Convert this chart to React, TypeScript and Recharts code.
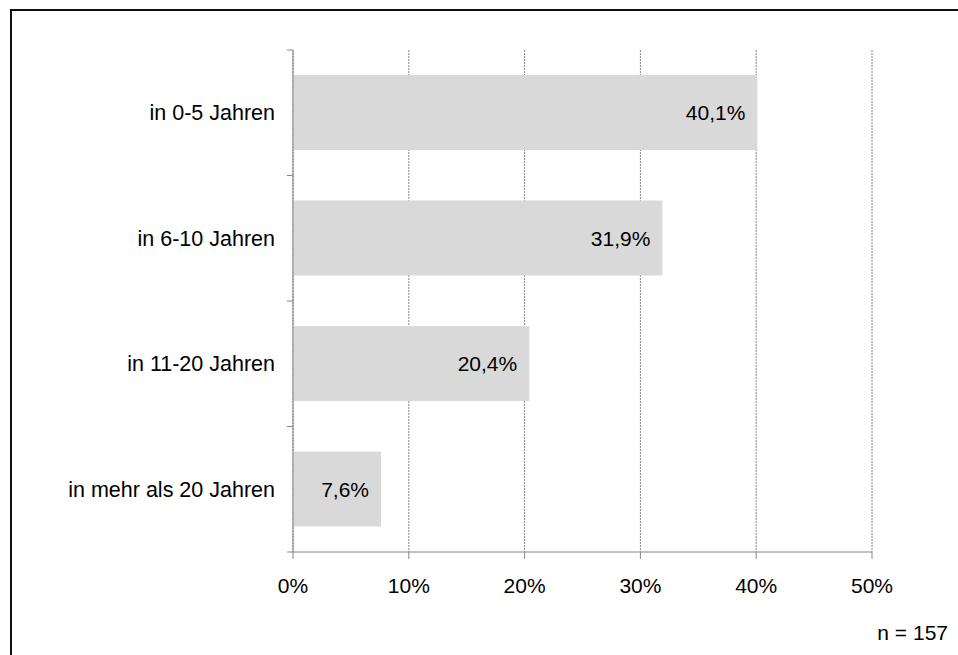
import React from 'react';
import { BarChart, Bar, XAxis, YAxis, CartesianGrid, LabelList } from 'recharts';

const categories = ['in 0-5 Jahren', 'in 6-10 Jahren', 'in 11-20 Jahren', 'in mehr als 20 Jahren'];
const shares = [40.1, 31.9, 20.4, 7.6];
const xTicks = [0, 10, 20, 30, 40, 50];
const sampleNote = 'n = 157';

const W = 958;
const H = 655;
const TOP = 50;
const X_AXIS_H = 103;
const Y_AXIS_W = 293;
const RIGHT = 86;
const FONT = 'Liberation Sans, Arial, sans-serif';
const AXIS = '#868686';

const rows = categories.map((name, i) => ({ name, value: shares[i] }));
const step = (H - TOP - X_AXIS_H) / categories.length;

const pct = (v: number) => `${v.toLocaleString('de-DE', { minimumFractionDigits: 1 })}%`;

// category label at the band centre, tick marks on the band edges
const CategoryTick = ({ y, payload, index }: any) => {
  const axisX = Y_AXIS_W;
  const last = index === categories.length - 1;
  return (
    <g>
      <line x1={axisX - 6} x2={axisX} y1={y - step / 2} y2={y - step / 2} stroke={AXIS} />
      {last && <line x1={axisX - 6} x2={axisX} y1={y + step / 2} y2={y + step / 2} stroke={AXIS} />}
      <text x={axisX - 18} y={y} dy="0.35em" textAnchor="end" fill="#000"
            style={{ fontFamily: FONT, fontSize: 21.5 }}>
        {payload.value}
      </text>
    </g>
  );
};

export default function App() {
  return (
    <div style={{ position: 'absolute', left: 0, top: 0, width: W, height: H, overflow: 'hidden', background: '#fff' }}>
      <div style={{ position: 'absolute', left: 10, top: 9, width: W, height: H, border: '2px solid #111' }} />
      <BarChart
        width={W} height={H} data={rows} layout="vertical"
        margin={{ top: TOP, right: RIGHT, bottom: 0, left: 0 }}
        barCategoryGap="20%"
      >
        <CartesianGrid horizontal={false} stroke={AXIS} strokeDasharray="2 1" />
        <XAxis
          type="number" domain={[0, 50]} ticks={xTicks} height={X_AXIS_H}
          tickFormatter={(v: number) => `${v}%`}
          stroke={AXIS} tickSize={7} tickMargin={19}
          tick={{ fill: '#000', fontSize: 21, fontFamily: FONT }}
        />
        <YAxis
          type="category" dataKey="name" width={Y_AXIS_W}
          stroke={AXIS} tickLine={false} tick={<CategoryTick />}
        />
        <Bar dataKey="value" fill="#d9d9d9" isAnimationActive={false}>
          <LabelList
            dataKey="value" position="insideRight" offset={12}
            formatter={(v: any) => pct(Number(v))}
            style={{ fill: '#000', fontSize: 21, fontFamily: FONT }}
          />
        </Bar>
      </BarChart>
      <div style={{
        position: 'absolute', right: W - 948, top: 622, fontFamily: FONT,
        fontSize: 21, lineHeight: '21px', color: '#000', whiteSpace: 'nowrap',
      }}>
        {sampleNote}
      </div>
    </div>
  );
}
